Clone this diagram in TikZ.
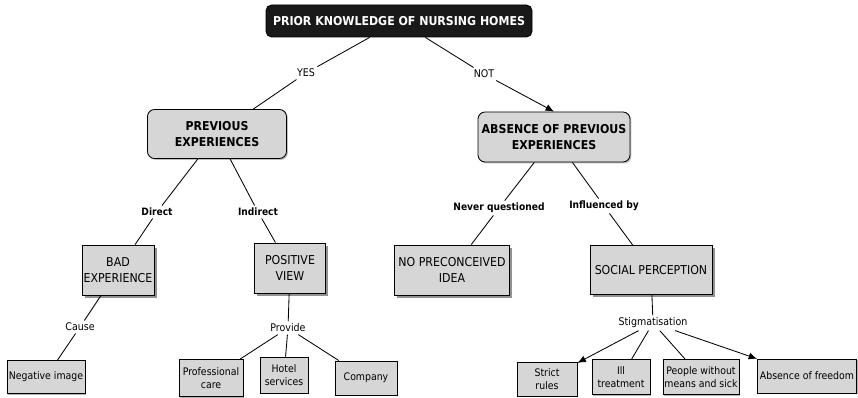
\documentclass[tikz,border=0pt]{standalone}
\usepackage{fontspec}
\setmainfont{DejaVu Sans Condensed}
\usetikzlibrary{shadows, arrows.meta}
\definecolor{boxgray}{HTML}{D6D6D6}
\tikzset{
  boxdim/.style 2 args={minimum width=#1*0.025cm, minimum height=#2*0.025cm},
  topbox/.style={draw, rounded corners=4pt, fill=black!90, text=white, font=\bfseries\fontsize{8.7}{10}\selectfont, boxdim={266}{32}},
  mainbox/.style={draw, rounded corners=5pt, fill=boxgray, font=\bfseries\fontsize{8.7}{11.5}\selectfont, align=center, inner sep=1pt, drop shadow={shadow xshift=1pt, shadow yshift=-1pt, fill=black!50}},
  subbox/.style={draw, fill=boxgray, font=\fontsize{8.7}{11.5}\selectfont, align=center, inner sep=1pt, drop shadow={shadow xshift=2pt, shadow yshift=-2pt, fill=black!85}},
  leafbox/.style={draw, fill=boxgray, font=\fontsize{7.4}{9.5}\selectfont, align=center, inner sep=1pt, drop shadow={shadow xshift=1pt, shadow yshift=-1pt, fill=black!60}},
  linkword/.style={font=\fontsize{7.5}{8}\selectfont, inner sep=1.5pt},
  boldword/.style={font=\bfseries\fontsize{7.2}{8}\selectfont, inner sep=1.5pt}
}
\begin{document}
\begin{tikzpicture}[x=0.025cm, y=-0.025cm, line width=0.6pt, >={Latex[length=6pt, width=5pt]}]

\useasboundingbox (0,0) rectangle (858,398);

% title
\node[topbox] at (399, 21) (title) {PRIOR KNOWLEDGE OF NURSING HOMES};

% first level
\node[mainbox, boxdim={139}{49}] at (217, 134) (prev) {PREVIOUS\\EXPERIENCES};
\node[mainbox, boxdim={152}{50}] at (554, 137) (absn) {ABSENCE OF PREVIOUS\\EXPERIENCES};
\node[linkword] at (306, 73) (yes) {YES};
\node[linkword] at (484, 74) (not) {NOT};
\draw (title) -- (yes);
\draw (yes) -- (prev);
\draw (title) -- (not);
\draw[->] (not) -- (absn.north);

% second level
\node[subbox, boxdim={72}{50}] at (118, 270) (bad) {BAD\\EXPERIENCE};
\node[subbox, boxdim={71}{50}] at (290, 268) (posv) {POSITIVE\\VIEW};
\node[subbox, boxdim={115}{50}] at (452, 270) (nopre) {NO PRECONCEIVED\\IDEA};
\node[subbox, boxdim={122}{49}] at (651, 270) (socp) {SOCIAL PERCEPTION};
\node[boldword] at (157, 212) (direct) {Direct};
\node[boldword] at (258, 212) (indirect) {Indirect};
\node[boldword] at (499, 208) (never) {Never questioned};
\node[boldword] at (604, 206) (influ) {Influenced by};
\draw (prev) -- (direct);
\draw (direct) -- (bad);
\draw (prev) -- (indirect);
\draw (indirect) -- (posv);
\draw (absn) -- (never);
\draw (never) -- (nopre);
\draw (absn) -- (influ);
\draw (influ) -- (socp);

% third level
\node[linkword] at (80, 327) (cause) {Cause};
\node[linkword] at (288, 328) (provide) {Provide};
\node[linkword] at (653, 323) (stigma) {Stigmatisation};
\node[leafbox, boxdim={78}{33}] at (46, 377) (negimg) {Negative image};
\node[leafbox, boxdim={64}{37}] at (211, 378) (profcare) {Professional\\care};
\node[leafbox, boxdim={48}{36}] at (284, 375) (hotel) {Hotel\\services};
\node[leafbox, boxdim={62}{34}] at (366, 378) (company) {Company};
\node[leafbox, boxdim={60}{34}] at (547, 379) (strict) {Strict\\rules};
\node[leafbox, boxdim={58}{35}] at (621, 377) (illtr) {Ill\\treatment};
\node[leafbox, boxdim={76}{35}] at (701, 377) (people) {People without\\means and sick};
\node[leafbox, boxdim={99}{34}] at (807, 376) (freedom) {Absence of freedom};
\draw (bad) -- (cause);
\draw (cause) -- (negimg);
\draw (posv) -- (provide);
\draw (provide) -- (profcare);
\draw (provide) -- (hotel);
\draw (provide) -- (company);
\draw (socp) -- (stigma);
\draw[->] (stigma) -- (strict);
\draw (stigma) -- (illtr);
\draw (stigma) -- (people);
\draw[->] (stigma) -- (freedom);

\end{tikzpicture}
\end{document}
